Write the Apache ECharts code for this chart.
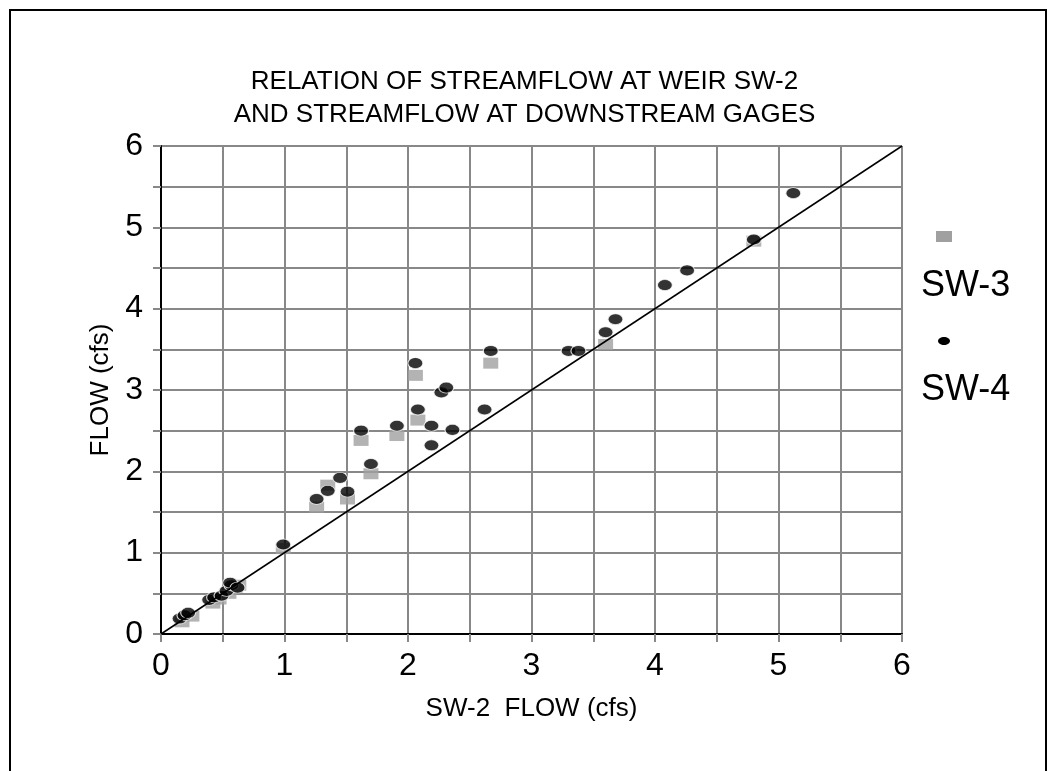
<!DOCTYPE html>
<html>
<head>
<meta charset="utf-8">
<script src="https://cdn.jsdelivr.net/npm/echarts@6/dist/echarts.min.js"></script>
<style>
  html, body { margin: 0; padding: 0; background: #fff; }
  #app { width: 1049px; height: 771px; }
</style>
</head>
<body>
<div id="app"></div>
<script>
const titleLines = ["RELATION OF STREAMFLOW AT WEIR SW-2", "AND STREAMFLOW AT DOWNSTREAM GAGES"];
const seriesNames = ["SW-3", "SW-4"];

// SW-3 gage, [SW-2 flow, SW-3 flow]
const sw3 = [
  [0.17, 0.15], [0.25, 0.22], [0.42, 0.38], [0.47, 0.43], [0.55, 0.50], [0.60, 0.57], [0.63, 0.60],
  [0.99, 1.05],
  [1.26, 1.56], [1.35, 1.83], [1.51, 1.66], [1.62, 2.38], [1.70, 1.97], [1.91, 2.44],
  [2.06, 3.18], [2.08, 2.63], [2.67, 3.33], [3.60, 3.56], [4.80, 4.83]
];

// SW-4 gage, [SW-2 flow, SW-4 flow]
const sw4 = [
  [0.15, 0.19], [0.19, 0.23], [0.22, 0.26], [0.39, 0.42], [0.43, 0.45], [0.49, 0.47],
  [0.53, 0.53], [0.57, 0.60], [0.56, 0.63], [0.62, 0.57],
  [0.99, 1.10],
  [1.26, 1.66], [1.35, 1.76], [1.45, 1.92], [1.51, 1.75], [1.62, 2.50], [1.70, 2.09],
  [1.91, 2.56], [2.06, 3.33], [2.08, 2.76], [2.19, 2.56], [2.19, 2.32], [2.27, 2.97],
  [2.31, 3.03], [2.36, 2.51], [2.62, 2.76], [2.67, 3.48], [3.30, 3.48], [3.38, 3.48],
  [3.60, 3.71], [3.68, 3.87], [4.08, 4.29], [4.26, 4.47], [4.80, 4.85], [5.12, 5.42]
];

// 1:1 line
const equalLine = [[0, 0], [6, 6]];

const font = "Liberation Sans, Arial, sans-serif";
const chart = echarts.init(document.getElementById("app"));

const axisCommon = {
  type: "value",
  min: 0,
  max: 6,
  interval: 0.5,
  axisLine: { show: true, onZero: false, lineStyle: { color: "#000", width: 2 } },
  axisTick: { show: true, length: 8, lineStyle: { color: "#888", width: 2 } },
  splitLine: { show: true, lineStyle: { color: "#888", width: 2 } },
  axisLabel: {
    fontFamily: font,
    fontSize: 32,
    color: "#000",
    formatter: (v) => (v % 1 === 0 ? String(v) : "")
  },
  nameTextStyle: { fontFamily: font, fontSize: 26, color: "#000" }
};

chart.setOption({
  animation: false,
  title: {
    text: titleLines.join("\n"),
    left: "center",
    top: 60,
    textStyle: { fontFamily: font, fontSize: 26, fontWeight: "normal", color: "#000", lineHeight: 33 }
  },
  grid: { left: 161, right: 147, top: 146, bottom: 137 },
  xAxis: Object.assign({}, axisCommon, {
    name: "SW-2  FLOW (cfs)",
    nameLocation: "middle",
    nameGap: 62,
    axisLabel: Object.assign({}, axisCommon.axisLabel, { margin: 16 })
  }),
  yAxis: Object.assign({}, axisCommon, {
    name: "FLOW (cfs)",
    nameLocation: "middle",
    nameGap: 40,
    axisLabel: Object.assign({}, axisCommon.axisLabel, { margin: 18 })
  }),
  series: [
    {
      name: seriesNames[0],
      type: "scatter",
      data: sw3,
      symbol: "rect",
      symbolSize: [15, 11],
      z: 2,
      itemStyle: { color: "#a0a0a0" }
    },
    {
      name: seriesNames[1],
      type: "scatter",
      data: sw4,
      symbol: "circle",
      symbolSize: [15, 11],
      z: 3,
      itemStyle: { color: "#000", borderColor: "#fff", borderWidth: 1 }
    },
    {
      name: "1:1",
      type: "line",
      data: equalLine,
      symbol: "none",
      silent: true,
      z: 4,
      lineStyle: { color: "#000", width: 1.5 }
    }
  ],
  graphic: [
    {
      type: "rect",
      shape: { x: 10, y: 10, width: 1036, height: 800 },
      style: { fill: "none", stroke: "#000", lineWidth: 2 },
      silent: true
    },
    {
      type: "rect",
      shape: { x: 936, y: 231, width: 16, height: 11 },
      style: { fill: "#a0a0a0" }
    },
    {
      type: "text",
      left: 921,
      top: 268,
      style: { text: seriesNames[0], font: "36px " + font, fill: "#000" }
    },
    {
      type: "ellipse",
      shape: { cx: 944, cy: 341, rx: 6, ry: 4 },
      style: { fill: "#000" }
    },
    {
      type: "text",
      left: 921,
      top: 372,
      style: { text: seriesNames[1], font: "36px " + font, fill: "#000" }
    }
  ]
});
</script>
</body>
</html>
